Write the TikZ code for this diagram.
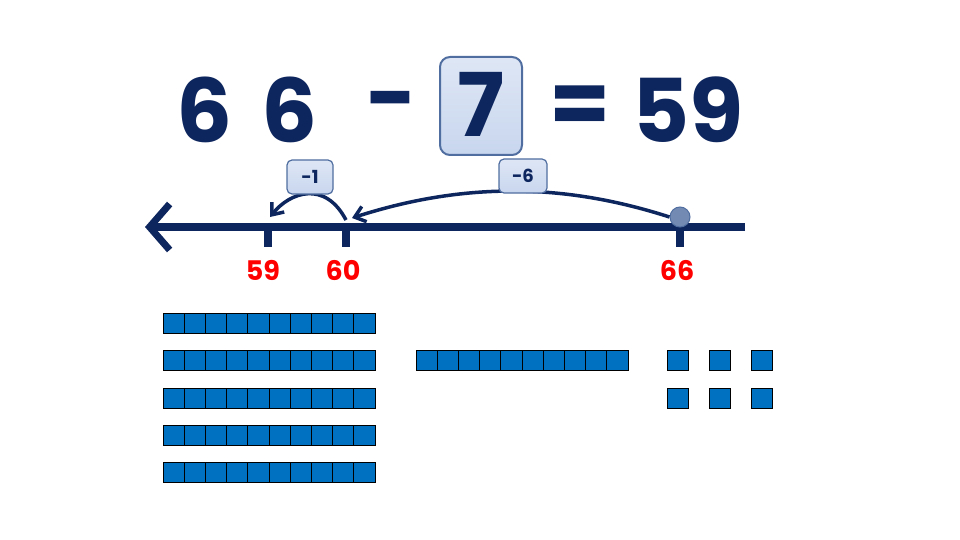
\documentclass[tikz,border=0pt]{standalone}
\usepackage{fontspec}
\setmainfont{Poppins}
\usetikzlibrary{arrows.meta}
\definecolor{navy}{RGB}{14,38,94}
\definecolor{blk}{RGB}{0,112,192}
\definecolor{lbl}{RGB}{200,214,238}
\definecolor{lbd}{RGB}{80,110,160}
\begin{document}
\begin{tikzpicture}[x=1pt,y=-1pt,
  sq/.style={draw=black,fill=blk,line width=1pt},
  tag/.style={draw=lbd,line width=1.2pt,rounded corners=5pt,top color=lbl!60,bottom color=lbl,text=navy,font=\bfseries\fontsize{18}{18}\selectfont,inner sep=0pt},
  big/.style={text=navy,font=\bfseries\fontsize{88}{88}\selectfont,inner sep=0pt},
  num/.style={text=red,font=\bfseries\fontsize{27}{27}\selectfont}]
\useasboundingbox (0,0) rectangle (960,540);
% title
\node[tag,minimum width=82pt,minimum height=98pt,rounded corners=10pt,line width=2pt] (b7) at (481,106) {};
\node[big] (t1) at (205,110) {6};
\node[big] (t2) at (290,110) {6};
\node[big] (t3) at (392,110) {-};
\node[big] (t4) at (481,104) {7};
\node[big] (t5) at (580,110) {=};
\node[big] (t6) at (688,110) {59};
% number line
\coordinate (L) at (145,227);
\coordinate (R) at (745,227);
\draw[navy,line width=8pt,-{Straight Barb[length=20pt,width=46pt,line width=7pt]}] (R) -- (L);
\foreach \x/\n in {268/a,346/b,680/c}{
  \coordinate (k\n) at (\x,227);
  \draw[navy,line width=8pt] (\x,227) -- (\x,247);
}
\node[num] (l59) at (263,270) {59};
\node[num] (l60) at (343,270) {60};
\node[num] (l66) at (677,270) {66};
\node[circle,draw=lbd,fill=lbd!80!white,minimum size=20pt,inner sep=0pt,line width=1pt] (dot) at (680,217) {};
\coordinate (s1) at (346,220);
\coordinate (e1) at (270,217);
\coordinate (e2) at (352,218);
\draw[navy,line width=3.5pt,-{Straight Barb[length=10pt,width=16pt]}] (s1) .. controls (325,180) and (290,192) .. (e1);
\draw[navy,line width=3.5pt,-{Straight Barb[length=10pt,width=16pt]}] (dot.west) .. controls (570,185) and (470,180) .. (e2);
\node[tag,minimum width=46pt,minimum height=34pt] (m1) at (310,177) {-1};
\node[tag,minimum width=48pt,minimum height=34pt] (m6) at (523,176) {-6};
% blocks
\foreach \y in {313,350,388,425,462}{
  \foreach \i in {0,...,9}{
    \draw[sq] (163+21.2*\i,\y) rectangle ++(21.2,20);
  }
}
\foreach \i in {0,...,9}{
  \draw[sq] (416+21.2*\i,350) rectangle ++(21.2,20);
}
\foreach \x in {667,709,751}{
  \foreach \y in {350,388}{
    \draw[sq] (\x,\y) rectangle ++(21,20);
  }
}
\end{tikzpicture}
\end{document}
